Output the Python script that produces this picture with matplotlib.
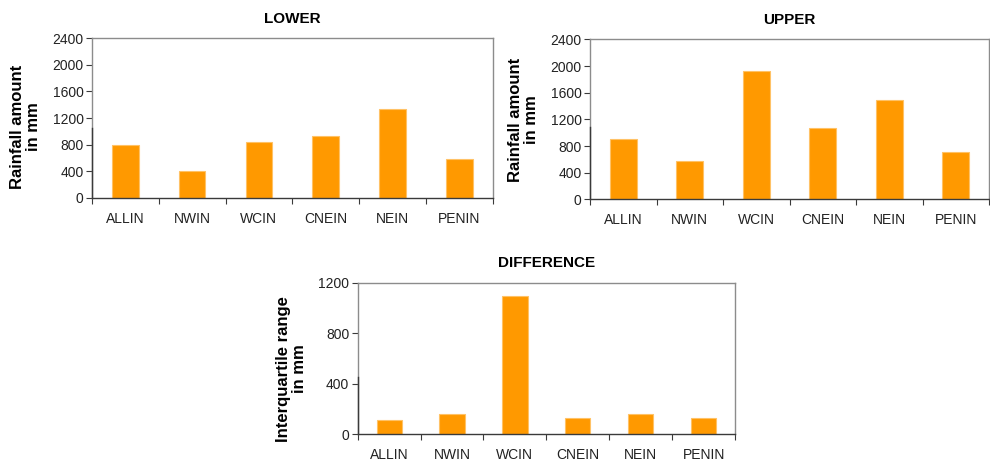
import matplotlib
matplotlib.use("Agg")
import matplotlib.pyplot as plt
import numpy as np

plt.rcParams['font.family'] = ['Liberation Sans', 'DejaVu Sans']

regions = ["ALLIN", "NWIN", "WCIN", "CNEIN", "NEIN", "PENIN"]
lower = [790, 410, 840, 930, 1330, 590]
upper = [910, 575, 1920, 1070, 1490, 715]
difference = [113, 164, 1094, 132, 158, 129]

rain_ticks = [0, 400, 800, 1200, 1600, 2000, 2400]
diff_ticks = [0, 400, 800, 1200]

BAR = "#FF9900"
EDGE = "#FFC266"
FRAME = "#8C8C8C"
DARK = "#3A3A3A"

fig = plt.figure(figsize=(9.9, 4.62), dpi=100)

panels = [
    ("LOWER", lower, rain_ticks, "Rainfall amount\nin mm", [0.0929, 0.572, 0.4047, 0.345], 0.44, 0.445),
    ("UPPER", upper, rain_ticks, "Rainfall amount\nin mm", [0.596, 0.5686, 0.403, 0.346], 0.45, 0.50),
    ("DIFFERENCE", difference, diff_ticks, "Interquartile range\nin mm", [0.3613, 0.0600, 0.3812, 0.328], 0.375, 0.43),
]

for title, vals, yt, ylab, rect, dark_frac, label_y in panels:
    ax = fig.add_axes(rect)
    x = np.arange(len(regions))
    ax.bar(x, vals, width=0.4, color=BAR, edgecolor=EDGE, linewidth=0.8, zorder=2)
    ax.set_xlim(-0.5, len(regions) - 0.5)
    ax.set_ylim(yt[0], yt[-1])
    ax.set_yticks(yt)
    ax.set_yticklabels([str(v) for v in yt], fontsize=10, color="#222222")
    # category labels centred under bars, tick marks on the boundaries
    ax.set_xticks(x)
    ax.set_xticklabels(regions, fontsize=10, color="#222222")
    ax.tick_params(axis="x", length=0, pad=10)
    ax.set_xticks(np.arange(-0.5, len(regions) + 0.5, 1.0), minor=True)
    ax.tick_params(axis="x", which="minor", length=4, direction="out", color=DARK, width=0.8)
    ax.tick_params(axis="y", length=4, direction="out", color=DARK, width=0.8, pad=2)
    for side in ("top", "right", "left"):
        ax.spines[side].set_color(FRAME)
        ax.spines[side].set_linewidth(1.0)
    ax.spines["bottom"].set_color(DARK)
    ax.spines["bottom"].set_linewidth(1.0)
    ax.plot([0, 0], [0, dark_frac], transform=ax.transAxes, color=DARK,
            linewidth=1.0, clip_on=False, zorder=3)
    ax.set_title(title, fontsize=11, fontweight="bold", pad=11)
    ax.set_ylabel(ylab, fontsize=12, fontweight="bold", labelpad=8,
                  linespacing=1.1, multialignment="center")
    ax.yaxis.label.set_y(label_y)

fig.savefig("out.png", dpi=100)
